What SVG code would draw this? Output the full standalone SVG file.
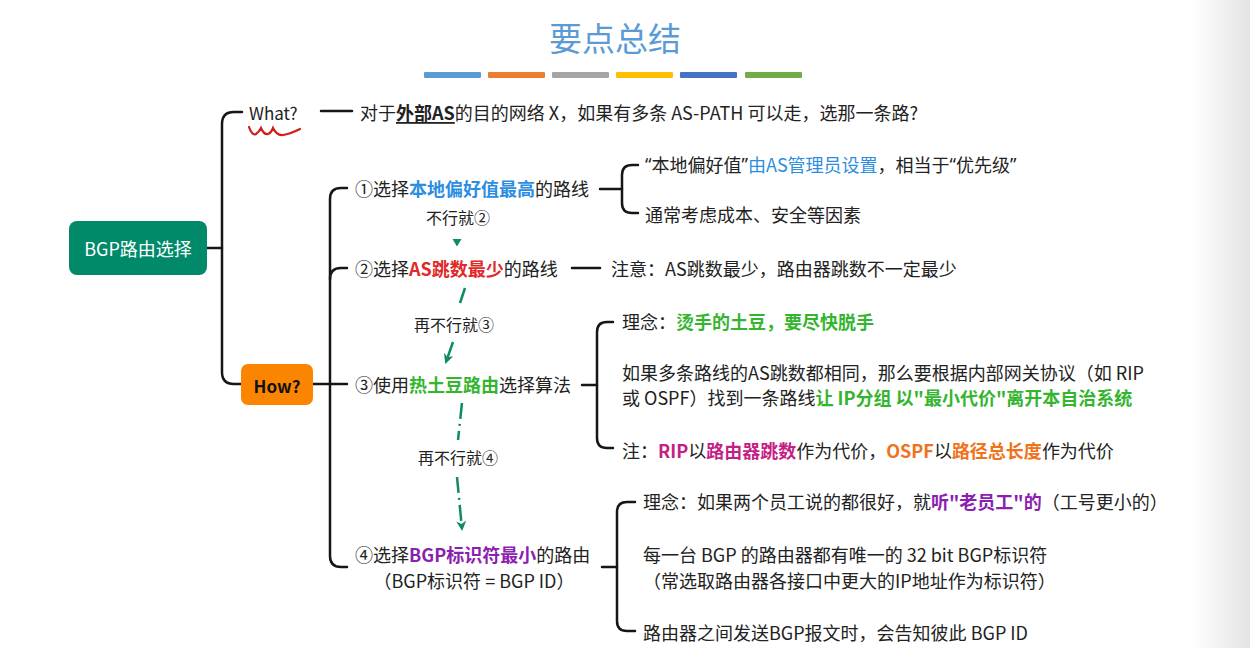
<svg xmlns="http://www.w3.org/2000/svg" width="1250" height="648" viewBox="0 0 1250 648">
<style>
text{font-family:"Noto Sans CJK SC","Noto Sans",sans-serif;font-size:18px;fill:#222;dominant-baseline:central}
.b{font-weight:700}
.q{font-family:"Noto Sans",sans-serif}
.blue{fill:#2b8ee0;font-weight:700}
.blue2{fill:#2b8ee0}
.red{fill:#e02a2a;font-weight:700}
.green{fill:#35b52f;font-weight:700}
.purple{fill:#8a1fb0;font-weight:700}
.mag{fill:#c41f86;font-weight:700}
.orange{fill:#f0731c;font-weight:700}
.tree{fill:none;stroke:#161616;stroke-width:2.5;stroke-linecap:round;stroke-linejoin:round}
.dash{fill:none;stroke:#0e8a67;stroke-width:2.5;stroke-dasharray:16 5 2 5}
.lbl{font-size:16px;text-anchor:middle}
</style>
<defs>
<linearGradient id="edge" x1="0" y1="0" x2="1" y2="0">
<stop offset="0" stop-color="#ffffff"/>
<stop offset="1" stop-color="#e4e4e4"/>
</linearGradient>
<marker id="ah" viewBox="0 0 10 10" refX="8" refY="5" markerWidth="4" markerHeight="4" orient="auto" markerUnits="strokeWidth">
<path d="M0,0 L10,5 L0,10 L3,5 z" fill="#0e8a67"/>
</marker>
</defs>
<rect x="0" y="0" width="1250" height="648" fill="#ffffff"/>
<rect x="1190" y="0" width="60" height="648" fill="url(#edge)"/>

<g id="title">
<text x="615" y="37" style="font-size:33px;text-anchor:middle;fill:#5b9bd5">要点总结</text>
<rect x="424" y="72" width="57" height="6" rx="1" fill="#5b9bd5"/>
<rect x="488" y="72" width="57" height="6" rx="1" fill="#ed7d31"/>
<rect x="552" y="72" width="57" height="6" rx="1" fill="#a5a5a5"/>
<rect x="616" y="72" width="57" height="6" rx="1" fill="#ffc000"/>
<rect x="680" y="72" width="57" height="6" rx="1" fill="#4472c4"/>
<rect x="745" y="72" width="57" height="6" rx="1" fill="#70ad47"/>
</g>

<g id="connectors">
<path class="tree" d="M206,248 H222"/>
<path class="tree" d="M242,112 H234 Q222,112 222,124 V372 Q222,384 234,384 H241"/>
<path class="tree" d="M321,111 H352"/>
<path class="tree" d="M313,384 H347"/>
<path class="tree" d="M347,188 H341 Q330,188 330,199 V556 Q330,567 341,567 H347"/>
<path class="tree" d="M330,279 Q330,268 341,268 H347"/>
<path class="tree" d="M600,189 H622"/>
<path class="tree" d="M638,165 H632 Q622,165 622,175 V203 Q622,213 632,213 H638"/>
<path class="tree" d="M572,268 H600"/>
<path class="tree" d="M582,385 H597"/>
<path class="tree" d="M613,322 H607 Q597,322 597,332 V438 Q597,448 607,448 H613"/>
<path class="tree" d="M602,567 H617"/>
<path class="tree" d="M635,502 H627 Q617,502 617,512 V621 Q617,631 627,631 H635"/>
<polygon points="452.5,239 461.5,239 457,246.5" fill="#0e8a67"/>
<path class="dash" d="M465,288 L460,303"/>
<path class="dash" d="M453,342 L446,362" marker-end="url(#ah)"/>
<path class="dash" d="M462,403 L458,440"/>
<path class="dash" d="M457,477 L462,529" marker-end="url(#ah)"/>
<path d="M249,127 Q252,136 256,134 Q259,132 261,128 Q264,135 268,134 Q271,133 273,128 Q277,136 283,135 Q290,134 300,129" fill="none" stroke="#d21b1b" stroke-width="2.2" stroke-linecap="round"/>
</g>

<g id="root">
<rect x="69" y="221" width="138" height="54" rx="8" fill="#008a6a"/>
<text x="138" y="248" style="fill:#ffffff;font-size:18px;text-anchor:middle">BGP路由选择</text>
</g>

<g id="what">
<text x="249" y="112" style="font-size:17px">What?</text>
</g>
<g id="what-desc">
<text x="360" y="112">对于<tspan class="b" text-decoration="underline">外部AS</tspan>的目的网络 X，如果有多条 AS-PATH 可以走，选那一条路?</text>
</g>

<g id="how">
<rect x="241" y="364" width="72" height="41" rx="7" fill="#fb8500"/>
<text x="277" y="385" class="b" style="font-size:17px;text-anchor:middle;fill:#111">How?</text>
</g>

<g id="step1">
<text x="355" y="188">①选择<tspan class="blue">本地偏好值最高</tspan>的路线</text>
</g>
<g id="step1-notes">
<text x="645" y="164"><tspan class="q">“</tspan>本地偏好值<tspan class="q">”</tspan><tspan class="blue2">由AS管理员设置</tspan>，相当于<tspan class="q">“</tspan>优先级<tspan class="q">”</tspan></text>
<text x="645" y="214">通常考虑成本、安全等因素</text>
</g>
<g id="lbl2"><text x="458" y="217" class="lbl">不行就②</text></g>

<g id="step2">
<text x="355" y="268">②选择<tspan class="red">AS跳数最少</tspan>的路线</text>
</g>
<g id="step2-note">
<text x="611" y="268">注意：AS跳数最少，路由器跳数不一定最少</text>
</g>
<g id="lbl3"><text x="454" y="324" class="lbl">再不行就③</text></g>

<g id="step3">
<text x="355" y="384">③使用<tspan class="green">热土豆路由</tspan>选择算法</text>
</g>
<g id="step3-notes">
<text x="622" y="321">理念：<tspan class="green">烫手的土豆，要尽快脱手</tspan></text>
<text x="622" y="372">如果多条路线的AS跳数都相同，那么要根据内部网关协议（如 RIP</text>
<text x="622" y="397">或 OSPF）找到一条路线<tspan class="green">让 IP分组 以"最小代价"离开本自治系统</tspan></text>
<text x="622" y="450">注：<tspan class="mag">RIP</tspan>以<tspan class="mag">路由器跳数</tspan>作为代价，<tspan class="orange">OSPF</tspan>以<tspan class="orange">路径总长度</tspan>作为代价</text>
</g>
<g id="lbl4"><text x="458" y="457" class="lbl">再不行就④</text></g>

<g id="step4">
<text x="355" y="554">④选择<tspan class="purple">BGP标识符最小</tspan>的路由</text>
<text x="474" y="580" style="text-anchor:middle">（BGP标识符 = BGP ID）</text>
</g>
<g id="step4-notes">
<text x="643" y="501">理念：如果两个员工说的都很好，就<tspan class="purple">听"老员工"的</tspan>（工号更小的）</text>
<text x="643" y="554">每一台 BGP 的路由器都有唯一的 32 bit BGP标识符</text>
<text x="643" y="580">（常选取路由器各接口中更大的IP地址作为标识符）</text>
<text x="643" y="632">路由器之间发送BGP报文时，会告知彼此 BGP ID</text>
</g>
</svg>
